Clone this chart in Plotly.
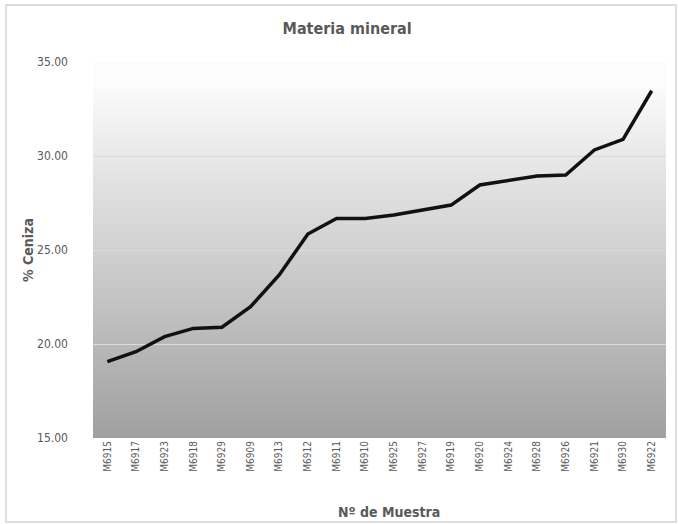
import plotly.graph_objects as go

muestras = ["M6915", "M6917", "M6923", "M6918", "M6929", "M6909", "M6913", "M6912",
            "M6911", "M6910", "M6925", "M6927", "M6919", "M6920", "M6924", "M6928",
            "M6926", "M6921", "M6930", "M6922"]
ceniza = [19.06, 19.59, 20.39, 20.83, 20.89, 21.99, 23.67, 25.85, 26.68, 26.68,
          26.86, 27.13, 27.39, 28.46, 28.69, 28.94, 28.99, 30.32, 30.89, 33.47]
y_ticks = [15, 20, 25, 30, 35]
y_tick_text = ["15.00", "20.00", "25.00", "30.00", "35.00"]

FONT = "Liberation Sans Narrow, DejaVu Sans Condensed, Arial Narrow, sans-serif"

fig = go.Figure()
fig.add_trace(go.Scatter(x=muestras, y=ceniza, mode="lines",
                         line=dict(color="#111111", width=3.5),
                         hoverinfo="x+y"))

# vertical gradient background in plot area
shapes = []
n = 90
top_white = 0.93
c_top, c_bot = 250, 160
for i in range(n):
    y0 = top_white * i / n
    y1 = top_white * (i + 1) / n
    t = (i + 0.5) / n
    c = int(round(c_bot + (c_top - c_bot) * t))
    shapes.append(dict(type="rect", xref="paper", yref="paper", x0=0, x1=1,
                       y0=y0, y1=y1 + 0.002, layer="below", line=dict(width=0),
                       fillcolor=f"rgb({c},{c},{c})"))
shapes.append(dict(type="rect", xref="paper", yref="paper", x0=0, x1=1,
                   y0=top_white, y1=1, layer="below", line=dict(width=0),
                   fillcolor="rgb(252,252,252)"))
# outer chart border
shapes.append(dict(type="rect", xref="paper", yref="paper",
                   x0=-0.1518, x1=1.0175, y0=-0.2234, y1=1.1516,
                   line=dict(color="#d4d4d4", width=1.5), layer="below"))

fig.update_layout(
    width=678, height=524,
    margin=dict(l=93, r=12, t=62, b=86),
    paper_bgcolor="white", plot_bgcolor="white",
    showlegend=False,
    shapes=shapes,
    font=dict(family=FONT, color="#595959"),
    title=dict(text="<b>Materia mineral</b>", x=0.512, xanchor="center",
               y=0.945, yanchor="middle",
               font=dict(family=FONT, size=16, color="#595959")),
    xaxis=dict(type="category", range=[-0.5, 19.5], tickangle=-90,
               tickfont=dict(family=FONT, size=10, color="#595959"),
               showgrid=False, zeroline=False, showline=False, ticks=""),
    yaxis=dict(range=[15, 35], tickvals=y_ticks, ticktext=y_tick_text,
               tickfont=dict(family=FONT, size=12, color="#595959"),
               gridcolor="#dcdcdc", gridwidth=1, zeroline=False,
               showline=False, ticks="", ticklabelstandoff=24),
    annotations=[
        dict(text="<b>% Ceniza</b>", xref="paper", yref="paper",
             x=(28 - 93) / 573, y=(438 - 250) / 376, textangle=-90,
             showarrow=False, xanchor="center", yanchor="middle",
             font=dict(family=FONT, size=14, color="#595959")),
        dict(text="<b>Nº de Muestra</b>", xref="paper", yref="paper",
             x=(389 - 93) / 573, y=(438 - 512) / 376,
             showarrow=False, xanchor="center", yanchor="middle",
             font=dict(family=FONT, size=14, color="#595959")),
    ],
)

fig.write_html("out.html", config={"displayModeBar": False},
               post_script="document.body.style.margin='0';document.body.style.overflow='hidden';")
